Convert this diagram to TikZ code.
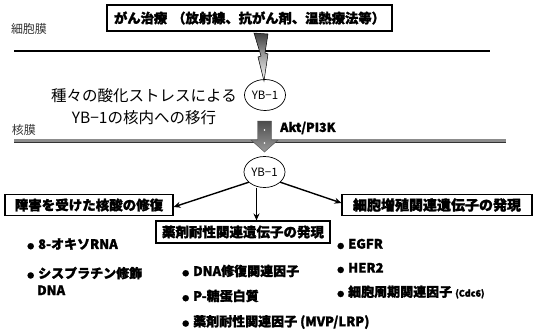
\documentclass[tikz,border=0pt]{standalone}
\usepackage{fontspec}
\setmainfont{Noto Sans CJK JP}[BoldFeatures={FakeBold=1.5}]
\usetikzlibrary{arrows.meta,shapes.geometric,shadings}
\newcommand{\bul}{{\fontsize{7}{7}\selectfont ●}\hspace{4pt}}
\begin{document}
\begin{tikzpicture}[x=1pt,y=-1pt,
  boxlabel/.style={draw,line width=1.1pt,font=\fontsize{13.5}{14}\selectfont\bfseries,inner sep=0pt,minimum height=21pt},
  item/.style={anchor=west,font=\fontsize{13}{17}\selectfont\bfseries,inner sep=0pt,align=left},
  yb/.style={draw,ellipse,line width=0.7pt,minimum width=41pt,minimum height=31pt,inner sep=0pt,font=\fontsize{11.5}{11.5}\selectfont},
  conn/.style={line width=1.4pt,-{Stealth[length=7pt,width=6pt]}},
  membrane/.style={font=\fontsize{12}{12}\selectfont,text=black!80,inner sep=0pt}
]
\useasboundingbox (0,0) rectangle (539,330);
% top box
\node[boxlabel,minimum width=285pt,minimum height=26pt,font=\fontsize{13.3}{14}\selectfont\bfseries] (top) at (249.5,18) {がん治療\hspace{5pt}（放射線、抗がん剤、温熱療法等）};
% cell membrane
\node[membrane] (cm) at (29,29) {細胞膜};
\coordinate (cmL) at (14,51);
\coordinate (cmR) at (490,51);
\draw[line width=1.5pt] (cmL) -- (cmR);
% lightning bolt
\shade[top color=black!75,bottom color=white,middle color=black!35,draw=black,line width=0.5pt]
  (254,33) -- (268,34) -- (265,53) -- (268,54) -- (264,81) -- (258,57) -- (261,56) -- cycle;
% YB-1 first
\node[yb] (yb1) at (265,95) {YB−1};
\node[font=\fontsize{15.5}{22}\selectfont,align=center,inner sep=0pt] (stress) at (144,107) {種々の酸化ストレスによる\\YB−1の核内への移行};
% nuclear membrane
\node[membrane] (nm) at (24,130) {核膜};
\coordinate (nmL) at (14,141);
\coordinate (nmR) at (506,141);
\draw[line width=3.5pt,black!45] (nmL) -- (nmR);
\draw[line width=1.2pt,black!80] ([yshift=-1.2pt]nmL) -- ([yshift=-1.2pt]nmR);
% block arrow
\shade[top color=black!70,bottom color=black!40,draw=black!70,line width=0.4pt]
  (257.5,121) -- (271.5,121) -- (271.5,140) -- (278,140) -- (264.5,152) -- (251,140) -- (257.5,140) -- cycle;
\fill[white] (264.5,130) circle (0.9pt) (264.5,143) circle (0.9pt);
\node[font=\fontsize{12.5}{13}\selectfont\bfseries,anchor=west,inner sep=0pt] (akt) at (280,128) {Akt/PI3K};
% YB-1 second
\node[yb] (yb2) at (264.5,172) {YB−1};
% boxes
\node[boxlabel,minimum width=168pt] (left) at (89,205) {障害を受けた核酸の修復};
\node[boxlabel,minimum width=174pt,minimum height=22pt] (mid) at (243,232) {薬剤耐性関連遺伝子の発現};
\node[boxlabel,minimum width=190pt,font=\fontsize{14}{14}\selectfont\bfseries] (right) at (437,205) {細胞増殖関連遺伝子の発現};
% arrows
\draw[conn] (yb2.south west) ++(-1,-1) -- (left.north east |- 0,207) ;
\draw[conn] ([xshift=-8pt]yb2.south) -- ([xshift=-8pt]yb2.south |- mid.north);
\draw[conn] (yb2.south east) ++(1,-1) -- ([yshift=2pt]right.west);
% items
\node[item] (i1) at (27,244) {\bul 8-オキソRNA};
\node[item] (i2) at (27,281) {\bul シスプラチン修飾\\\hspace{10pt}DNA};
\node[item] (m1) at (182,271) {\bul DNA修復関連因子};
\node[item] (m2) at (182,296) {\bul P-糖蛋白質};
\node[item] (m3) at (182,322) {\bul 薬剤耐性関連因子 (MVP/LRP)};
\node[item] (r1) at (337,244) {\bul EGFR};
\node[item] (r2) at (337,268) {\bul HER2};
\node[item] (r3) at (337,292) {\bul 細胞周期関連因子 {\fontsize{9}{9}\selectfont (Cdc6)}};
\end{tikzpicture}
\end{document}
